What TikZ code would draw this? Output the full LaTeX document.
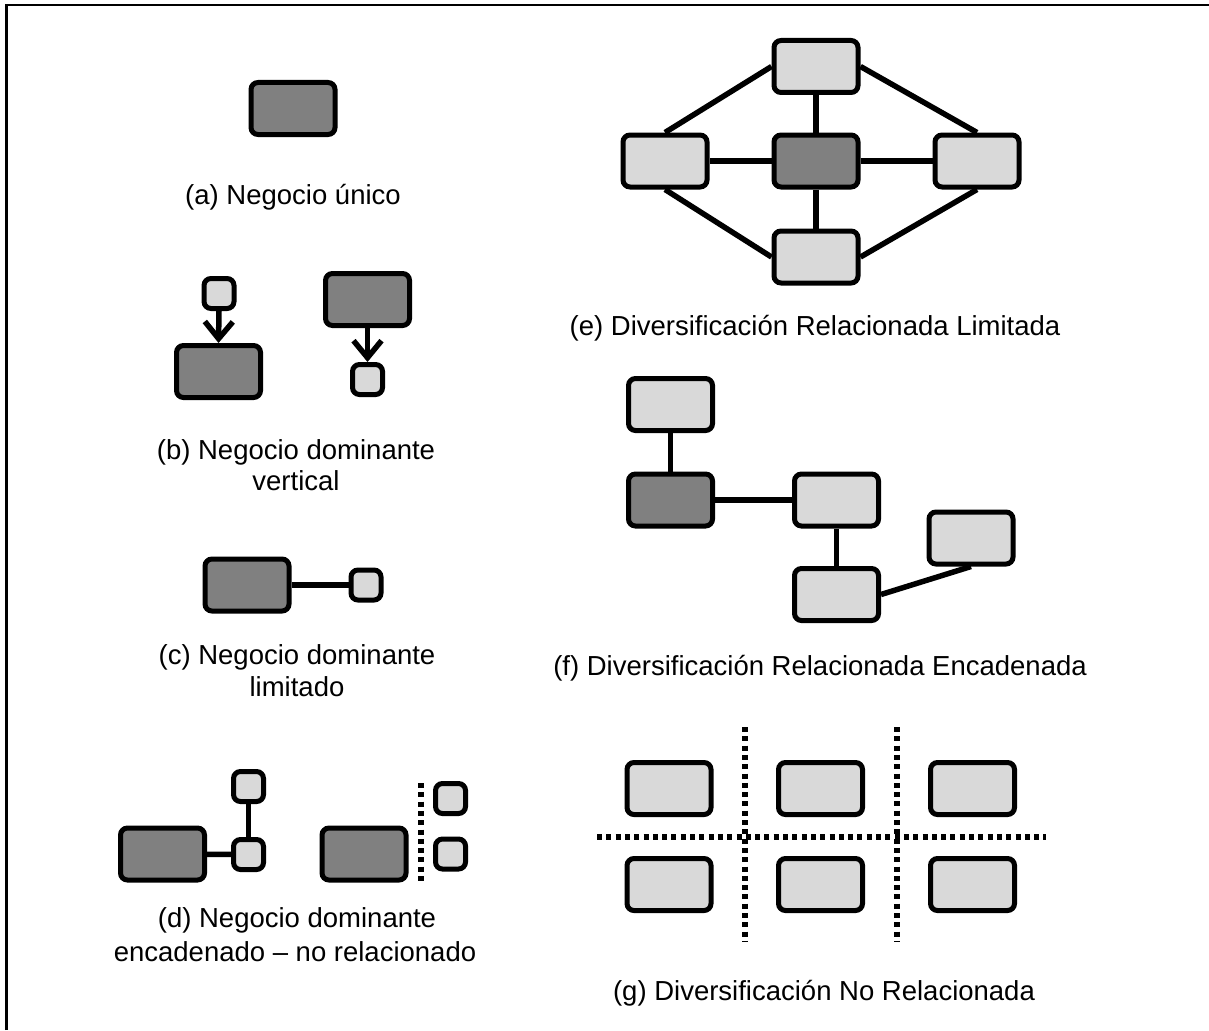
\documentclass[tikz,border=0pt]{standalone}
\usepackage{fontspec}
\newfontfamily\captionfont{Liberation Sans}
\usetikzlibrary{arrows.meta}
\definecolor{coregray}{HTML}{808080}
\definecolor{sidegray}{HTML}{D9D9D9}
\tikzset{
  unitbox/.style={draw=black, line width=5pt, rounded corners=7pt, inner sep=0pt},
  bigbox/.style={unitbox, minimum width=84pt, minimum height=52pt},
  smallbox/.style={unitbox, minimum width=30pt, minimum height=30pt},
  core/.style={fill=coregray},
  side/.style={fill=sidegray},
  link/.style={line width=5.5pt},
  flow/.style={line width=5.5pt, -{Straight Barb[length=17pt,width=28pt]}},
  divider/.style={line width=5.5pt, dash pattern=on 5pt off 4.3pt},
  caption/.style={font=\captionfont\fontsize{27.5pt}{32pt}\selectfont, anchor=base, inner sep=0pt},
  frame/.style={line width=2.2pt}
}
\begin{document}
\begin{tikzpicture}[x=1pt, y=-1pt]
\useasboundingbox (0,0) rectangle (1209,1030);
\fill[white] (0,0) rectangle (1209,1030);

% frame lines
\coordinate (ftl) at (6.5,5);
\coordinate (ftr) at (1209,5);
\coordinate (fbl) at (6.5,1030);
\draw[frame] (fbl) -- (ftl) -- (ftr);

% (a) single business
\node[bigbox, core] (a1) at (293,108.5) {};
\node[caption] (acap) at (293,204) {(a) Negocio único};

% (b) vertical dominant business
\node[smallbox, side] (b1) at (219,293.5) {};
\node[bigbox, core] (b2) at (218.5,371.5) {};
\draw[flow] (b1.south) -- (b2.north);
\node[bigbox, core] (b3) at (367.5,299.5) {};
\node[smallbox, side] (b4) at (367.5,379.5) {};
\draw[flow] (b3.south) -- (b4.north);
\node[caption] (bcap1) at (296,459) {(b) Negocio dominante};
\node[caption] (bcap2) at (296,490) {vertical};

% (c) limited dominant business
\node[bigbox, core] (c1) at (247,585) {};
\node[smallbox, side] (c2) at (366,585) {};
\draw[link] (c1) -- (c2);
\node[caption] (ccap1) at (297,664) {(c) Negocio dominante};
\node[caption] (ccap2) at (297,696) {limitado};

% (d) linked / unrelated dominant business
\node[bigbox, core] (d1) at (162.5,854) {};
\node[smallbox, side] (d2) at (248.5,786.5) {};
\node[smallbox, side] (d3) at (248.5,854.5) {};
\draw[link] (d1) -- (d3);
\draw[link] (d2) -- (d3);
\node[bigbox, core] (d4) at (364,854) {};
\node[smallbox, side] (d5) at (450.5,798.5) {};
\node[smallbox, side] (d6) at (450.5,854) {};
\coordinate (dsep1) at (421,783);
\coordinate (dsep2) at (421,884);
\draw[divider] (dsep1) -- (dsep2);
\node[caption] (dcap1) at (297,927) {(d) Negocio dominante};
\node[caption] (dcap2) at (295,961) {encadenado – no relacionado};

% (e) limited related diversification
\node[bigbox, core] (e0) at (816,161) {};
\node[bigbox, side] (etop) at (816,66.5) {};
\node[bigbox, side] (eleft) at (665,161) {};
\node[bigbox, side] (eright) at (977,161) {};
\node[bigbox, side] (ebot) at (816,257) {};
\draw[link] (e0) -- (etop);
\draw[link] (e0) -- (eleft);
\draw[link] (e0) -- (eright);
\draw[link] (e0) -- (ebot);
\draw[link] (eleft.north) -- (etop.west);
\draw[link] (eleft.south) -- (ebot.west);
\draw[link] (eright.north) -- (etop.east);
\draw[link] (eright.south) -- (ebot.east);
\node[caption] (ecap) at (815,335) {(e) Diversificación Relacionada Limitada};

% (f) linked related diversification
\node[bigbox, side] (ftop) at (670.5,404.5) {};
\node[bigbox, core] (fcore) at (670.5,500) {};
\node[bigbox, side] (fmid) at (836.5,500) {};
\node[bigbox, side] (fright) at (971,538) {};
\node[bigbox, side] (fbot) at (836.5,594.5) {};
\draw[link] (ftop) -- (fcore);
\draw[link] (fcore) -- (fmid);
\draw[link] (fmid) -- (fbot);
\draw[link] (fbot.east) -- (fright.south);
\node[caption] (fcap) at (820,675) {(f) Diversificación Relacionada Encadenada};

% (g) unrelated diversification
\node[bigbox, side] (g11) at (669,788.5) {};
\node[bigbox, side] (g12) at (820.5,788.5) {};
\node[bigbox, side] (g13) at (972.5,788.5) {};
\node[bigbox, side] (g21) at (669,884.5) {};
\node[bigbox, side] (g22) at (820.5,884.5) {};
\node[bigbox, side] (g23) at (972.5,884.5) {};
\coordinate (gv1t) at (745,727);
\coordinate (gv1b) at (745,942);
\coordinate (gv2t) at (897,727);
\coordinate (gv2b) at (897,942);
\coordinate (ghl) at (597,837);
\coordinate (ghr) at (1046,837);
\draw[divider] (gv1t) -- (gv1b);
\draw[divider] (gv2t) -- (gv2b);
\draw[divider] (ghl) -- (ghr);
\node[caption] (gcap) at (824,1000) {(g) Diversificación No Relacionada};
\end{tikzpicture}
\end{document}
